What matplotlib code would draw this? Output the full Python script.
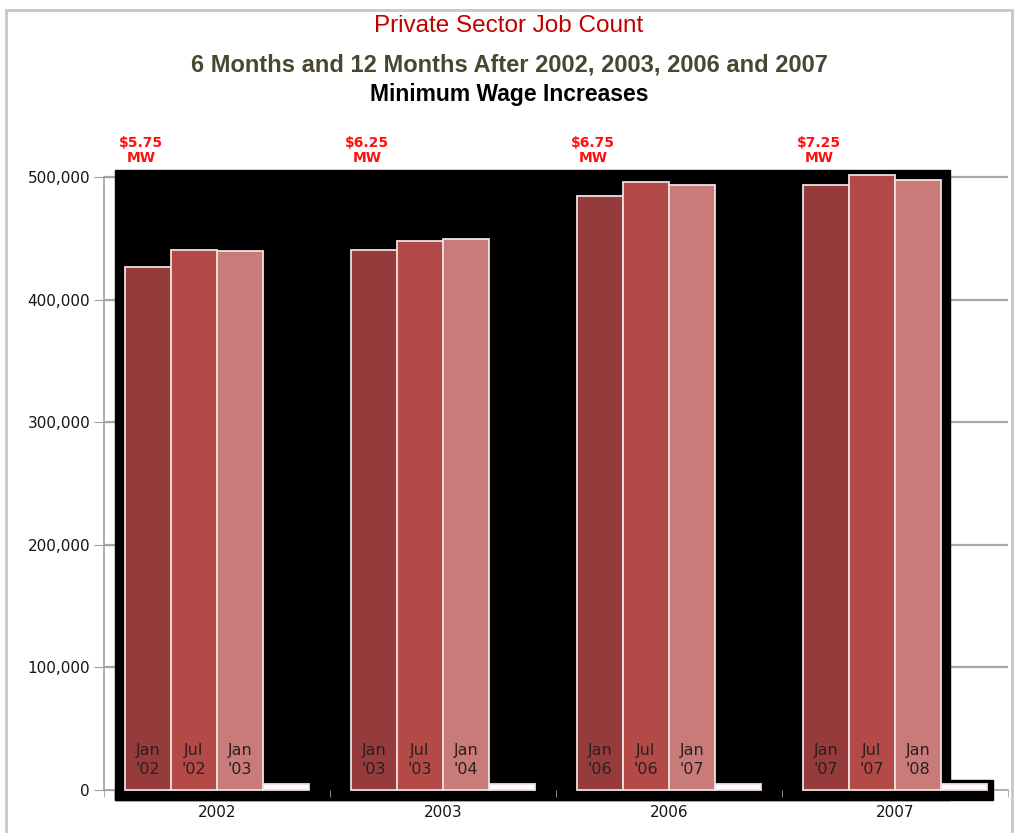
import matplotlib
matplotlib.use("Agg")
import matplotlib.pyplot as plt
from matplotlib.patches import Rectangle
import numpy as np

# data
years = ["2002", "2003", "2006", "2007"]
wage_labels = ["$5.75\nMW", "$6.25\nMW", "$6.75\nMW", "$7.25\nMW"]
month_labels = [
    ["Jan\n'02", "Jul\n'02", "Jan\n'03"],
    ["Jan\n'03", "Jul\n'03", "Jan\n'04"],
    ["Jan\n'06", "Jul\n'06", "Jan\n'07"],
    ["Jan\n'07", "Jul\n'07", "Jan\n'08"],
]
at_increase = [427000, 440500, 484500, 494000]
six_months = [440500, 447800, 496000, 501600]
twelve_months = [440000, 449400, 494000, 498000]
spacer = [5000, 5000, 5000, 5000]

colors = ["#953B3B", "#B44A48", "#C97B7A", "#FFFFFF"]
series = [at_increase, six_months, twelve_months, spacer]

plt.rcParams['font.family'] = ['Liberation Sans', 'DejaVu Sans']

fig = plt.figure(figsize=(10.18, 8.33), dpi=100)
ax = fig.add_axes([104 / 1018, 43 / 833, 904 / 1018, 625 / 833])

x = np.arange(len(years))
width = 0.2035
offsets = (np.arange(4) - 1.5) * width

ax.set_xlim(-0.5, 3.5)
ax.set_ylim(0, 510000)

# grid lines behind everything
for v in range(100000, 500001, 100000):
    ax.axhline(v, color="#A8A8A8", lw=1.6, zorder=0)

# black backdrop (shadow effect of the original chart)
left = -0.5 + 11 / 226
right = -0.5 + 846 / 226
ax.add_patch(Rectangle((left, -8000), right - left, 514000, color="black", zorder=1, clip_on=False))
ax.add_patch(Rectangle((left, -8500), 3.434 - left, 8500, color="black", zorder=1, clip_on=False))
ax.add_patch(Rectangle((right - 0.01, 0), 3.434 - right + 0.01, 8000, color="black", zorder=1))

for i, (vals, c) in enumerate(zip(series, colors)):
    ax.bar(x + offsets[i], vals, width, color=c, edgecolor="#F0E0E0", lw=1.3, zorder=3, clip_on=False)

# month labels inside the bars
for g in range(len(years)):
    for i in range(3):
        ax.text(x[g] + offsets[i], 24500, month_labels[g][i], ha="center", va="center",
                fontsize=11.5, color="#2A2020", zorder=4, linespacing=1.4,
                family=['DejaVu Sans'])
    ax.text(x[g] + offsets[0] - 0.03, 522000, wage_labels[g], ha="center", va="center",
            fontsize=10, color="#FF1010", fontweight="bold", clip_on=False, linespacing=1.1,
            family=['DejaVu Sans'])

# axes styling
for s in ["top", "right"]:
    ax.spines[s].set_visible(False)
ax.spines["left"].set_bounds(0, 500000)
ax.spines["left"].set_color("#A0A0A0")
ax.spines["bottom"].set_color("#A0A0A0")
ax.spines["left"].set_linewidth(1.2)
ax.spines["bottom"].set_linewidth(1.2)
ax.spines["bottom"].set_zorder(0.5)

ax.set_yticks(range(0, 500001, 100000))
ax.set_yticklabels([f"{v:,}" for v in range(0, 500001, 100000)], family=['DejaVu Sans'])
ax.tick_params(axis="y", direction="inout", length=14, color="#A0A0A0", labelsize=11,
               labelcolor="#151515", pad=3)

ax.set_xticks(x)
ax.set_xticklabels(years, family=['DejaVu Sans'])
ax.tick_params(axis="x", length=0, labelsize=11, labelcolor="#151515", pad=11)
ax.set_xticks(np.arange(-0.5, 3.6, 1.0), minor=True)
ax.tick_params(axis="x", which="minor", length=5, color="#A0A0A0", direction="out")

# titles
fig.text(0.5, 0.969, "Private Sector Job Count", ha="center", va="center",
         fontsize=17.5, color="#C00000")
fig.text(0.5, 0.922, "6 Months and 12 Months After 2002, 2003, 2006 and 2007", ha="center",
         va="center", fontsize=17, color="#4A4630", fontweight="bold")
fig.text(0.5, 0.886, "Minimum Wage Increases", ha="center", va="center",
         fontsize=16.5, color="black", fontweight="bold")

# frame around the whole chart
fig.patches.append(Rectangle((6 / 1018, -0.01), 1006 / 1018, 1 - 10 / 833 + 0.01,
                             transform=fig.transFigure, fill=False,
                             edgecolor="#C8C8C8", lw=2, figure=fig))

fig.savefig("out.png", dpi=100)
